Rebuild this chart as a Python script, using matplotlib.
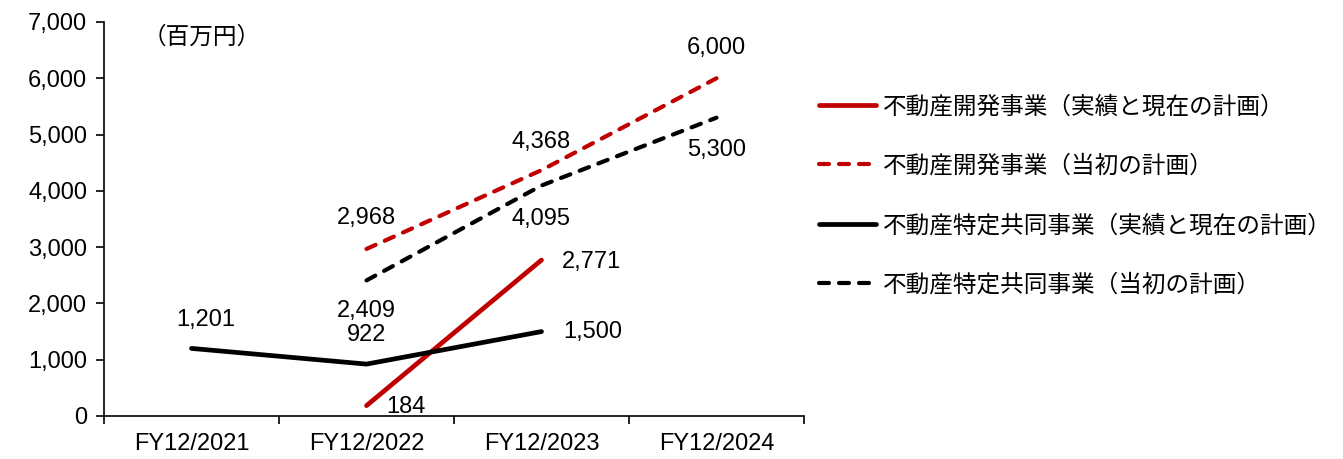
import matplotlib
matplotlib.use("Agg")
import matplotlib.pyplot as plt
import numpy as np

plt.rcParams['font.family'] = ['Liberation Sans', 'Noto Sans CJK JP', 'DejaVu Sans']

categories = ["FY12/2021", "FY12/2022", "FY12/2023", "FY12/2024"]
dev_actual = [None, 184, 2771, None]
dev_initial = [None, 2968, 4368, 6000]
joint_actual = [1201, 922, 1500, None]
joint_initial = [None, 2409, 4095, 5300]

labels = ["不動産開発事業（実績と現在の計画）", "不動産開発事業（当初の計画）",
          "不動産特定共同事業（実績と現在の計画）", "不動産特定共同事業（当初の計画）"]
unit_label = "（百万円）"

RED = "#C00000"
fig = plt.figure(figsize=(13.43, 4.59), dpi=100)
ax = fig.add_axes([104/1343, 1-416/459, 700/1343, 394/459])

x = np.arange(len(categories))

def series(vals):
    xs = [i for i, v in enumerate(vals) if v is not None]
    ys = [v for v in vals if v is not None]
    return np.array(xs), np.array(ys)

SOLID_LW = 3.4
DASH_LW = 3.0
DASH = (0, (2.4, 2.4))

xs, ys = series(dev_actual)
l1, = ax.plot(xs, ys, color=RED, lw=SOLID_LW, solid_capstyle='round', label=labels[0])
xs, ys = series(dev_initial)
l2, = ax.plot(xs, ys, color=RED, lw=DASH_LW, ls=DASH, dash_capstyle='round', label=labels[1])
xs, ys = series(joint_actual)
l3, = ax.plot(xs, ys, color="black", lw=SOLID_LW, solid_capstyle='round', label=labels[2])
xs, ys = series(joint_initial)
l4, = ax.plot(xs, ys, color="black", lw=DASH_LW, ls=DASH, dash_capstyle='round', label=labels[3])

fs = 17
def lab(i, v, dx, dy):
    ax.annotate(f"{v:,}", (i, v), xytext=(dx, dy), textcoords='offset pixels',
                ha='center', va='center', fontsize=fs)

# data labels
lab(0, joint_actual[0], 14, 28)
lab(1, joint_actual[1], 0, 29)
lab(1, joint_initial[1], 0, -31)
lab(1, dev_initial[1], 0, 31)
lab(1, dev_actual[1], 39, -1)
lab(2, dev_actual[2], 50, -2)
lab(2, joint_actual[2], 51, 0)
lab(2, dev_initial[2], 0, 28)
lab(2, joint_initial[2], 0, -33)
lab(3, dev_initial[3], 0, 30)
lab(3, joint_initial[3], 0, -32)

ax.set_xlim(-0.5, 3.5)
ax.set_ylim(0, 7000)
ax.set_yticks(np.arange(0, 7001, 1000))
ax.set_yticklabels([f"{v:,}" for v in range(0, 7001, 1000)], fontsize=fs)
ax.set_xticks(x)
ax.set_xticklabels(categories, fontsize=fs)
ax.set_xticks(np.arange(-0.5, 3.6, 1), minor=True)
ax.tick_params(axis='x', which='major', length=0, pad=12)
ax.tick_params(axis='x', which='minor', length=6, direction='out', width=1.2)
ax.tick_params(axis='y', length=6, direction='out', width=1.2, pad=6)
for s in ['top', 'right']:
    ax.spines[s].set_visible(False)
for s in ['left', 'bottom']:
    ax.spines[s].set_linewidth(1.2)

ax.text(143/1343, 1-38/459, unit_label, transform=fig.transFigure, fontsize=fs,
        ha='left', va='center')

fig.legend(handles=[l1, l2, l3, l4], loc='upper left',
           bbox_to_anchor=(810/1343, 1-86/459), frameon=False, fontsize=fs,
           handlelength=2.4, handletextpad=0.3, labelspacing=1.56,
           borderaxespad=0)

fig.savefig("out.png", dpi=100)
